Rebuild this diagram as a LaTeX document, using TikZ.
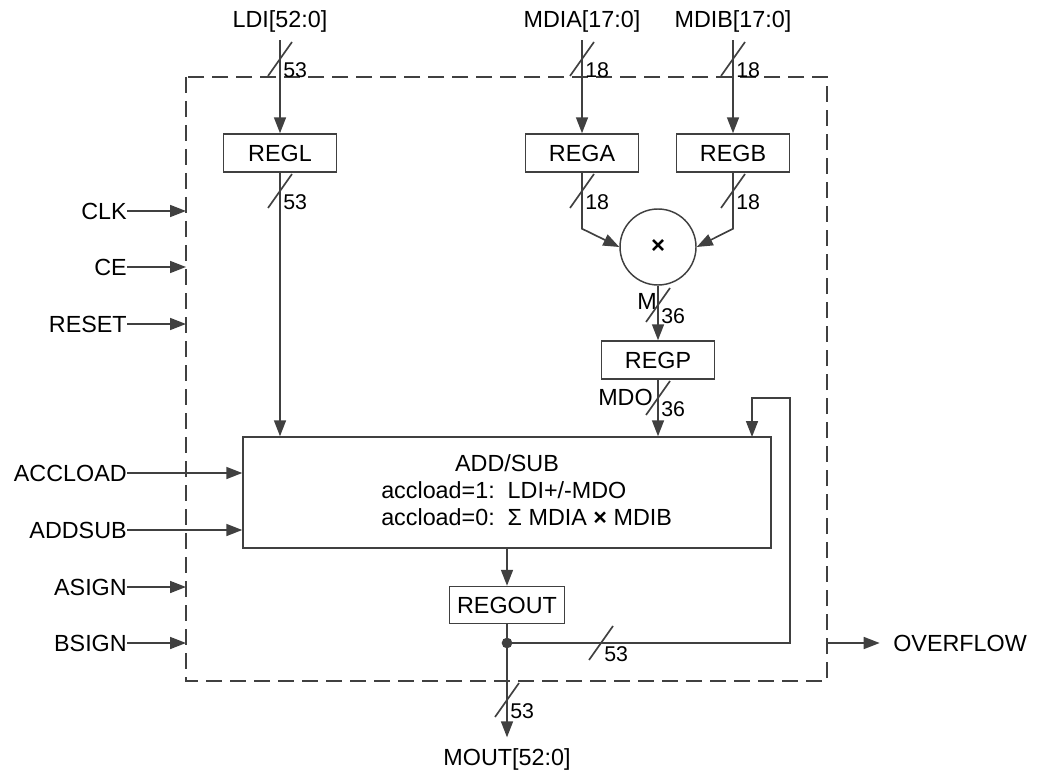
\documentclass[tikz,border=0pt]{standalone}
\usepackage{fontspec}
\setmainfont{Liberation Sans}
\usetikzlibrary{arrows.meta, positioning}
\definecolor{wirecol}{HTML}{404040}

% bus width mark: name, x, y, width
\newcommand{\buswidth}[4]{%
  \draw[wire] (#2,#3) ++(-12,17) -- ++(24,-34);
  \path (#2,#3) ++(3,11) node[buslbl] (#1) {#4};}

\begin{document}
\begin{tikzpicture}[
    x=0.75pt, y=-0.75pt,
    wire/.style={draw=wirecol, line width=1.25pt},
    arrow/.style={wire, -{Triangle[length=12pt, width=9pt]}},
    reg/.style={draw=wirecol, line width=1.1pt, minimum width=84.75pt,
                minimum height=28.5pt, inner sep=0pt, font=\fontsize{17.5}{20}\selectfont},
    lbl/.style={inner sep=0pt, font=\fontsize{17.5}{20}\selectfont},
    buslbl/.style={inner sep=0pt, anchor=west, font=\fontsize{16}{18}\selectfont},
    frame/.style={draw=wirecol, line width=1.1pt, dash pattern=on 12pt off 6pt},
]
\useasboundingbox (0,0) rectangle (1044,773);

% dashed block outline
\coordinate (fnw) at (186,77);
\coordinate (fse) at (827,681);
\draw[frame] (fnw) rectangle (fse);

% data inputs
\node[lbl] (ldi) at (280,21) {LDI[52:0]};
\node[lbl] (mdia) at (582,21) {MDIA[17:0]};
\node[lbl] (mdib) at (733,21) {MDIB[17:0]};

\node[reg] (regl) at (280,153) {REGL};
\node[reg] (rega) at (582,153) {REGA};
\node[reg] (regb) at (733,153) {REGB};
\node[draw=wirecol, line width=1.1pt, circle, minimum size=57pt, inner sep=0pt,
      font=\bfseries\fontsize{18}{20}\selectfont] (mul) at (658,247) {×};
\node[reg] (regp) at (658,360) {REGP};

\node[reg, minimum width=396pt, minimum height=83.25pt] (addsub) at (507,492.5) {};
\node[lbl, anchor=base] (optitle) at (507,471) {ADD/SUB};
\node[lbl, anchor=base west] (opone) at (381,498) {accload=1:\ \ LDI+/-MDO};
\node[lbl, anchor=base west] (optwo) at (381,525) {accload=0:\ \ Σ MDIA {\bfseries×} MDIB};

\node[reg, minimum width=86.25pt, minimum height=27.75pt] (regout) at (507,605) {REGOUT};
\coordinate (tap) at (507,643);
\node[lbl, anchor=north] (mout) at (507,748) {MOUT[52:0]};
\node[lbl, anchor=west] (overflow) at (893,643) {OVERFLOW};

% control inputs
\node[lbl, anchor=east] (clk) at (127,211) {CLK};
\node[lbl, anchor=east] (ce) at (127,267) {CE};
\node[lbl, anchor=east] (reset) at (127,324) {RESET};
\node[lbl, anchor=east] (accload) at (127,473) {ACCLOAD};
\node[lbl, anchor=east] (addsubin) at (127,530) {ADDSUB};
\node[lbl, anchor=east] (asign) at (127,587) {ASIGN};
\node[lbl, anchor=east] (bsign) at (127,643) {BSIGN};

\draw[arrow] (clk) -- (clk -| fnw);
\draw[arrow] (ce) -- (ce -| fnw);
\draw[arrow] (reset) -- (reset -| fnw);
\draw[arrow] (accload) -- (accload -| addsub.west);
\draw[arrow] (addsubin) -- (addsubin -| addsub.west);
\draw[arrow] (asign) -- (asign -| fnw);
\draw[arrow] (bsign) -- (bsign -| fnw);

% datapath
\draw[arrow] ([yshift=-6pt]ldi.south) -- (regl);
\draw[arrow] ([yshift=-6pt]mdia.south) -- (rega);
\draw[arrow] ([yshift=-6pt]mdib.south) -- (regb);
\draw[arrow] (regl) -- (regl |- addsub.north);
\draw[arrow] (rega.south) -- ++(0,56) -- (mul.west);
\draw[arrow] (regb.south) -- ++(0,56) -- (mul.east);
\draw[arrow] (mul) -- (regp);
\draw[arrow] (regp) -- (regp |- addsub.north);
\draw[arrow] (addsub) -- (regout);
\draw[wire] (regout) -- (tap);
\fill[wirecol] (tap) circle[radius=4pt];
\draw[arrow] (tap) -- ([yshift=8pt]mout.north);
\draw[arrow] (tap) -- ++(283,0) -- ++(0,-245) -- ++(-38,0) -- ++(0,39);
\draw[arrow] (overflow -| fse) -- ([xshift=-10pt]overflow.west);

\node[lbl, anchor=east] (mname) at (657,301) {M};
\node[lbl, anchor=east] (mdoname) at (653,397) {MDO};

% bus widths
\buswidth{wldi}{280}{59}{53}
\buswidth{wregl}{280}{191}{53}
\buswidth{wmdia}{582}{59}{18}
\buswidth{wmdib}{733}{59}{18}
\buswidth{wrega}{582}{191}{18}
\buswidth{wregb}{733}{191}{18}
\buswidth{wmul}{658}{305}{36}
\buswidth{wregp}{658}{398}{36}
\buswidth{wfb}{601}{643}{53}
\buswidth{wmout}{507}{700}{53}
\end{tikzpicture}
\end{document}
